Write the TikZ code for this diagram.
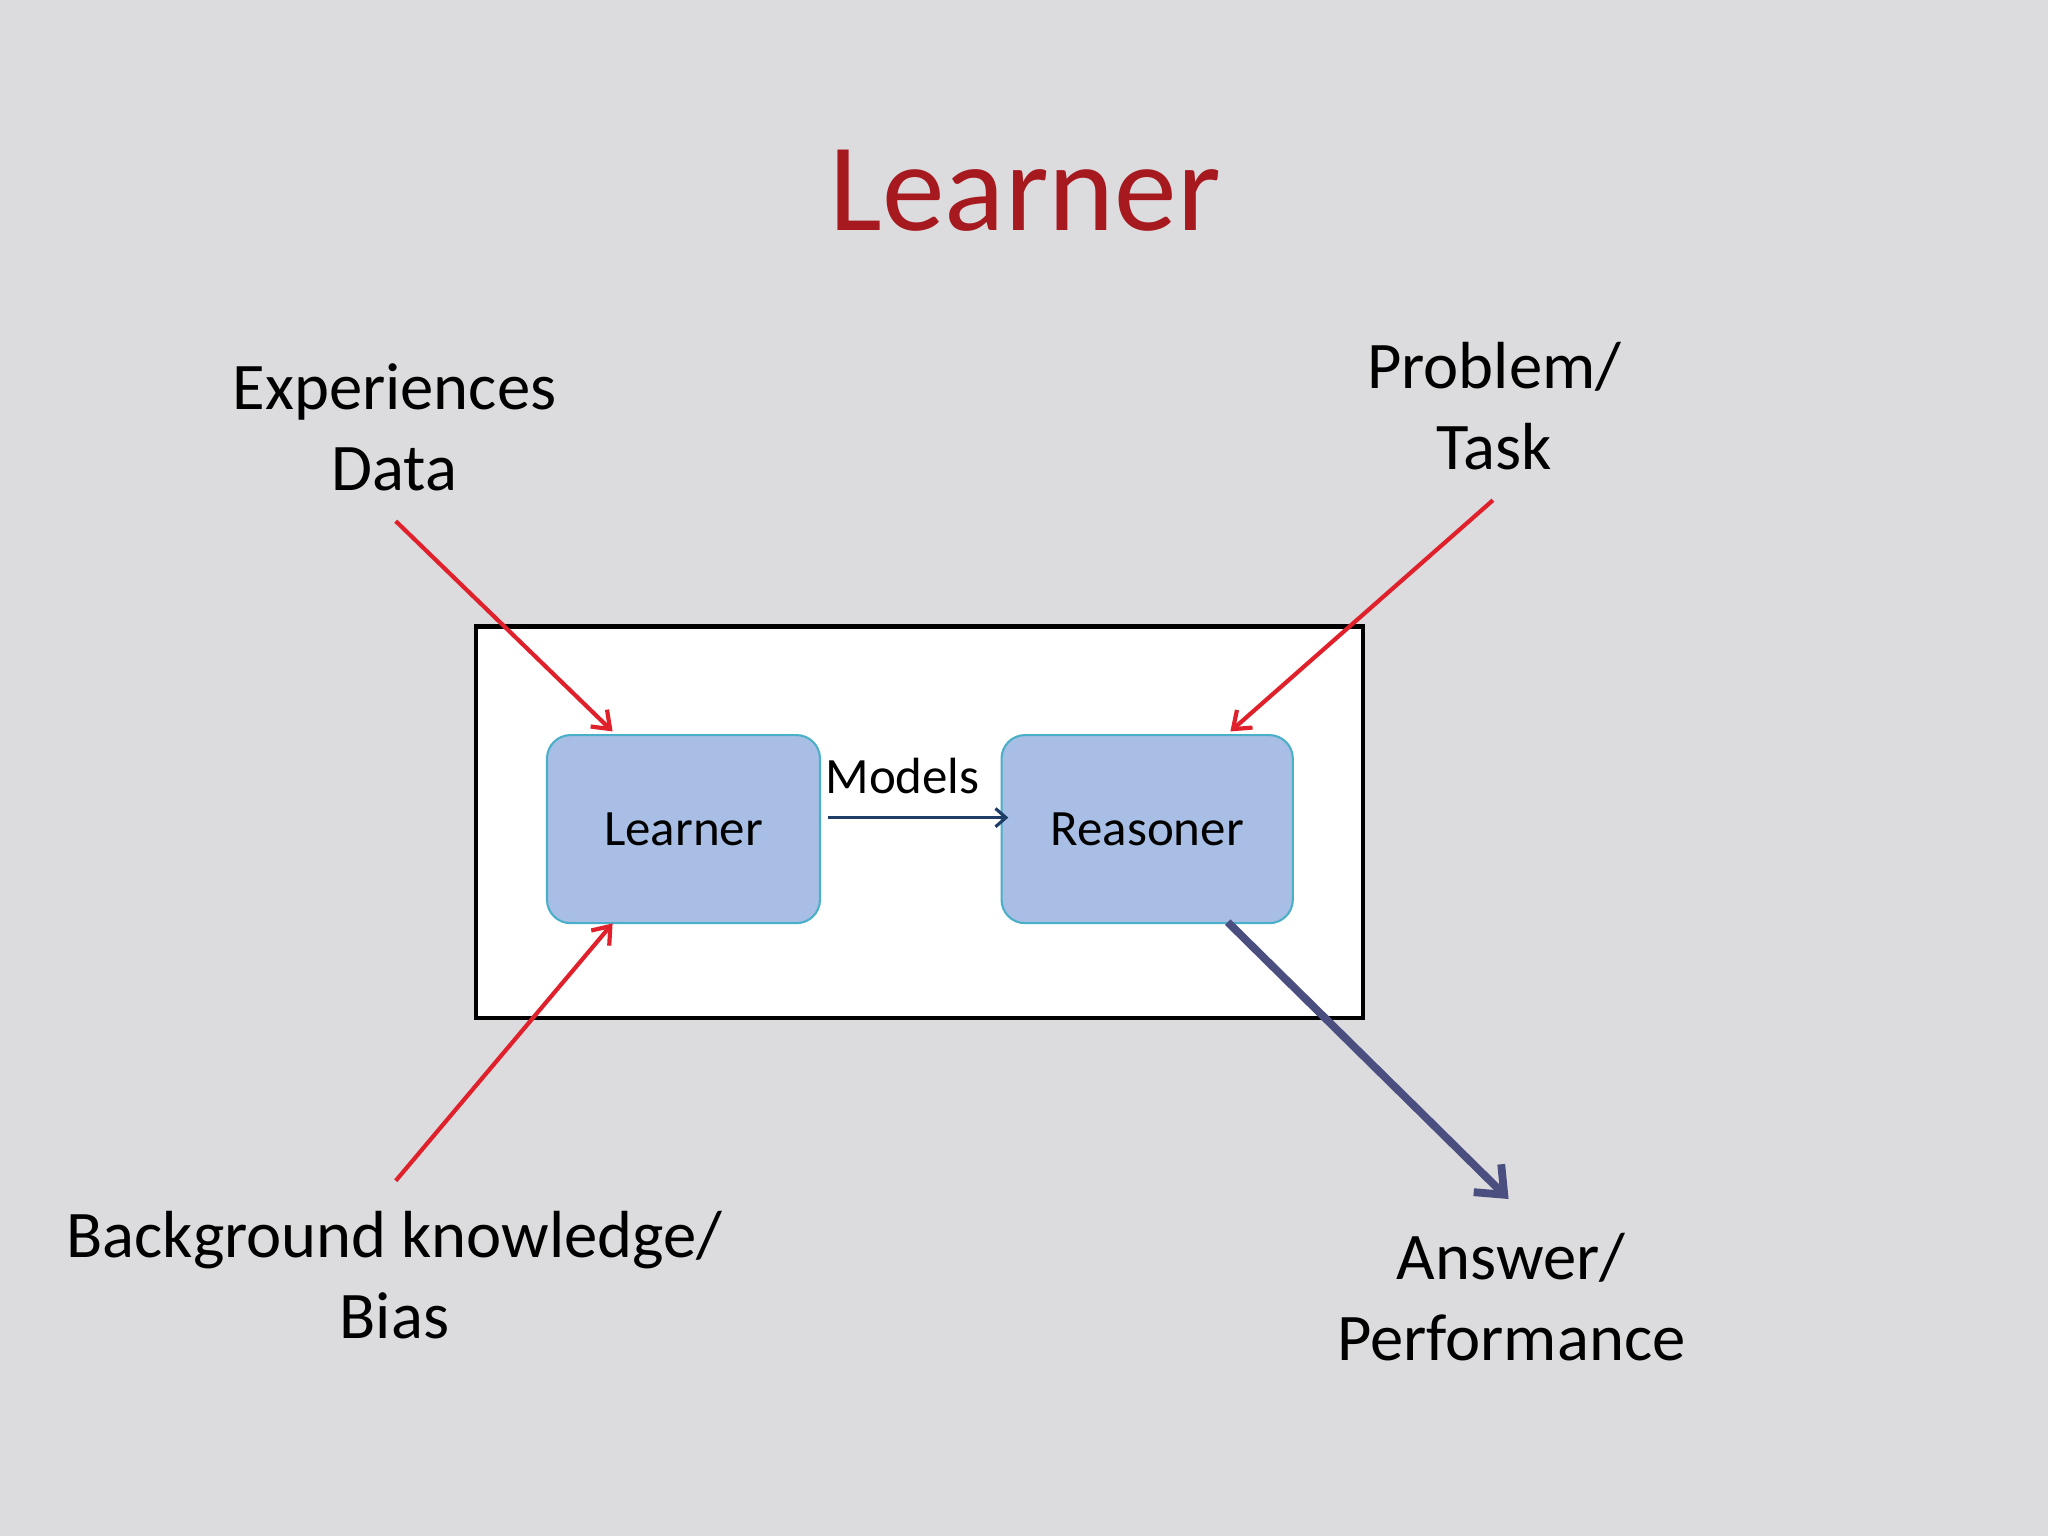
\documentclass[tikz,border=0pt]{standalone}
\usepackage{fontspec}
\setmainfont{Carlito}
\usetikzlibrary{arrows.meta}
\definecolor{bg}{HTML}{DCDBDD}
\definecolor{boxfill}{HTML}{A9BEE4}
\definecolor{boxline}{HTML}{4AAFC8}
\definecolor{tred}{HTML}{A6191E}
\definecolor{ared}{HTML}{E0202A}
\definecolor{ablue}{HTML}{4A4F80}
\definecolor{mblue}{HTML}{1F3D66}
\begin{document}
\begin{tikzpicture}[x=0.5bp,y=-0.5bp,
  lbl/.style={align=center,font=\fontsize{25.5bp}{31bp}\selectfont,text=black},
  blk/.style={draw=boxline,line width=0.8bp,fill=boxfill,rounded corners=9bp,font=\fontsize{19.5bp}{22bp}\selectfont},
  redarr/.style={draw=ared,line width=1.6bp,-{Straight Barb[length=6bp,width=9bp]}}]
\fill[bg] (0,0) rectangle (1568,1176);
\useasboundingbox (0,0) rectangle (1568,1176);
\node[text=tred,font=\fontsize{48bp}{54bp}\selectfont] (title) at (785,146) {Learner};
\node[draw=black,fill=white,line width=1.6bp,minimum width=339.5bp,minimum height=150bp,anchor=north west] (outer) at (363,478) {};
\node[blk,minimum width=104.5bp,minimum height=72bp,anchor=north west] (learner) at (418,562) {Learner};
\node[blk,minimum width=111.5bp,minimum height=72bp,anchor=north west] (reasoner) at (766,562) {Reasoner};
\coordinate (m1) at (634,626);
\coordinate (m2) at (772,626);
\draw[mblue,line width=1.2bp,-{Straight Barb[length=4bp,width=7bp]}] (m1) -- (m2);
\node[font=\fontsize{19.5bp}{22bp}\selectfont] (models) at (691,594) {Models};
\node[lbl] (exp) at (302,327) {Experiences\\Data};
\node[lbl] (prob) at (1144,311) {Problem/\\Task};
\node[lbl] (bk) at (302,976) {Background knowledge/\\Bias};
\node[lbl] (ans) at (1157,993) {Answer/\\Performance};
\coordinate (e0) at (303,399); \coordinate (e1) at (469,560);
\coordinate (p0) at (1143,383); \coordinate (p1) at (942,560);
\coordinate (b0) at (303,904); \coordinate (b1) at (469,707);
\coordinate (r0) at (940,706); \coordinate (r1) at (1155,918);
\draw[redarr] (e0) -- (e1);
\draw[redarr] (p0) -- (p1);
\draw[redarr] (b0) -- (b1);
\draw[ablue,line width=3bp,-{Straight Barb[length=9bp,width=15bp]}] (r0) -- (r1);
\end{tikzpicture}
\end{document}
